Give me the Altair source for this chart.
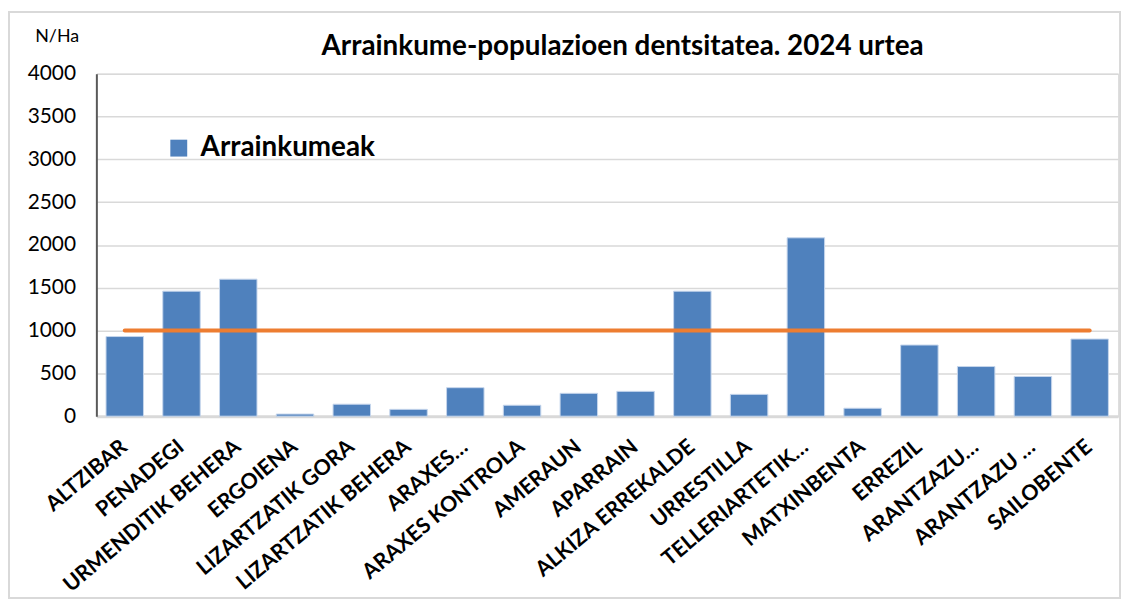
import altair as alt
import pandas as pd

categories = ["ALTZIBAR", "PENADEGI", "URMENDITIK BEHERA", "ERGOIENA", "LIZARTZATIK GORA",
              "LIZARTZATIK BEHERA", "ARAXES…", "ARAXES KONTROLA", "AMERAUN", "APARRAIN",
              "ALKIZA ERREKALDE", "URRESTILLA", "TELLERIARTETIK…", "MATXINBENTA", "ERREZIL",
              "ARANTZAZU…", "ARANTZAZU …", "SAILOBENTE"]
densities = [930, 1460, 1600, 25, 140, 80, 333, 128, 267, 290, 1460, 255, 2083, 93, 831, 580, 464, 901]
threshold = [1000] * len(categories)
series_name = "Arrainkumeak"
title_text = "Arrainkume-populazioen dentsitatea. 2024 urtea"

df = pd.DataFrame({"cat": categories, "value": densities, "thr": threshold,
                   "series": [series_name] * len(categories)})

FONT = "Lato"
W, H = 1029, 345

x_enc = alt.X("cat:N", sort=None, title=None,
              scale=alt.Scale(paddingInner=0.34, paddingOuter=0.17),
              axis=alt.Axis(labelAngle=-40, labelAlign="right", labelBaseline="middle",
                            labelFontSize=21.5, labelFontWeight="bold", labelFont=FONT,
                            labelColor="#000000", labelPadding=28, labelOffset=0, ticks=False,
                            domainColor="#d9d9d9", domainWidth=3, labelLimit=400))

bars = alt.Chart(df).mark_bar(stroke="#c6d6ec", strokeWidth=1).encode(
    x=x_enc,
    y=alt.Y("value:Q", scale=alt.Scale(domain=[0, 4000]),
            axis=alt.Axis(values=list(range(0, 4001, 500)), format="d", ticks=False, labelPadding=21,
                          labelFontSize=21, labelFont=FONT, labelColor="#000000",
                          domainColor="#595959", domainWidth=2,
                          gridColor="#d9d9d9", gridWidth=1.5,
                          title="N/Ha", titleAngle=0, titleAlign="center", titleBaseline="middle",
                          titleX=-40, titleY=-37, titleFontSize=18, titleFontWeight="normal",
                          titleFont=FONT, titleColor="#000000")),
    color=alt.Color("series:N", scale=alt.Scale(range=["#4f81bd"]),
                    legend=alt.Legend(title=None, orient="none", legendX=69, legendY=61,
                                      symbolType="square", symbolSize=289, symbolStrokeWidth=0,
                                      labelFontSize=28, labelFontWeight="bold", labelFont=FONT,
                                      labelColor="#000000", padding=0, labelOffset=8,
                                      labelLimit=500)),
)

line = alt.Chart(df).mark_line(color="#ed7d31", strokeWidth=4, strokeCap="round").encode(
    x=alt.X("cat:N", sort=None),
    y="thr:Q",
)

frame = alt.Chart(pd.DataFrame({"k": [0]})).mark_rect(
    fill=None, stroke="#d9d9d9", strokeWidth=2, clip=False
).encode(x=alt.value(-88), x2=alt.value(1031), y=alt.value(-62), y2=alt.value(528))

title = alt.Chart(pd.DataFrame({"t": [title_text]})).mark_text(
    font=FONT, fontSize=28, fontWeight="bold", color="#000000", align="center",
    baseline="alphabetic", clip=False
).encode(text="t:N", x=alt.value(530), y=alt.value(-19))

chart = alt.layer(frame, bars, line, title).properties(
    width=W, height=H,
    autosize=alt.AutoSizeParams(type="none"),
    padding={"left": 89, "top": 64, "right": 6, "bottom": 185},
).configure_view(stroke=None).configure(background="white")

chart.save("out.html", embed_options={"renderer": "svg", "actions": False})
